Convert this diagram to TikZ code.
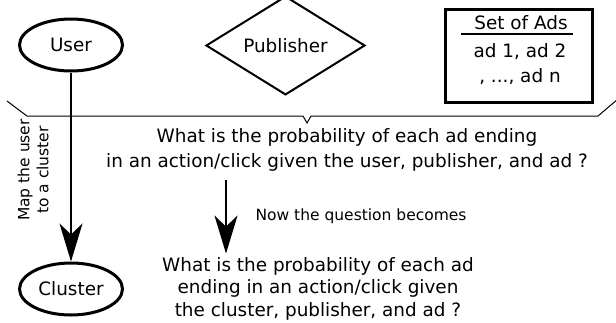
\documentclass[tikz,border=0pt]{standalone}
\usepackage{fontspec}
\setmainfont{DejaVu Sans}
\usetikzlibrary{shapes.geometric,arrows.meta}
\begin{document}
\begin{tikzpicture}[x=1pt, y=-1pt, >={Stealth[length=38pt,width=23pt,inset=11pt]},
  txt/.style={font=\fontsize{18.4}{25}\selectfont, align=center},
  small/.style={font=\fontsize{15.5}{19}\selectfont, align=center},
  oval/.style={ellipse, draw, line width=3pt, minimum width=103pt, minimum height=52pt, txt}]
\useasboundingbox (0,0) rectangle (616,322);

\node[oval] (user) at (71,45) {User};
\node[diamond, draw, line width=2pt, minimum width=159pt, minimum height=67pt, inner sep=0pt, txt] (publisher) at (285.5,45.5) {Publisher};
\node[draw, line width=3pt, minimum width=147pt, minimum height=93pt] (ads) at (519,56) {};
\node[txt] (adstitle) at (521,23) {Set of Ads};
\node[txt] (adslist) at (520,64) {ad 1, ad 2\\, ..., ad n};
\draw[line width=2.5pt] (461,34) -- (573,34);

\draw[line width=1pt] (7,101) -- (27,116) -- (303,116) -- (307,123) -- (311,116) -- (598,116) -- (618,99);
\node[txt] (q1) at (347,149.5) {What is the probability of each ad ending\\in an action/click given the user, publisher, and ad ?};

\node[oval] (cluster) at (71,289) {Cluster};
\draw[->, line width=2pt] (user) -- (cluster);
\node[small, rotate=90] (maplabel) at (33,170) {Map the user\\to a cluster};

\coordinate (now) at (226,180);
\node[txt, font=\fontsize{18.4}{22.5}\selectfont] (q2) at (318,288.5) {What is the probability of each ad\\ending in an action/click given\\the cluster, publisher, and ad ?};
\draw[->, line width=2pt] (now) -- (now |- q2.north);
\node[small, anchor=west] (becomes) at (252,216) {Now the question becomes};
\end{tikzpicture}
\end{document}
